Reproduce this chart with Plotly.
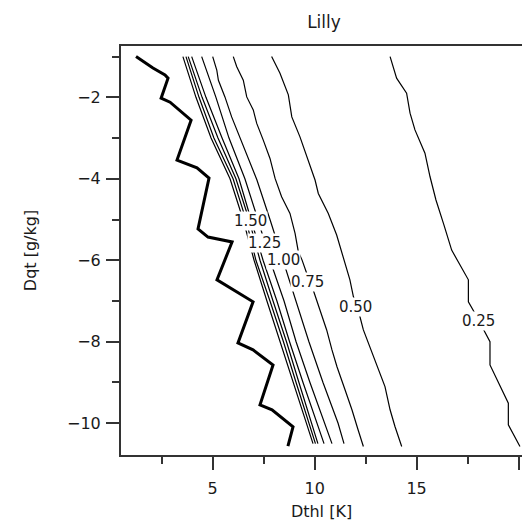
import plotly.graph_objects as go

# ---- data -------------------------------------------------------------
# Labelled contour levels and the spot each label is written at
levels = ["0.25", "0.50", "0.75", "1.00", "1.25", "1.50"]
label_x = [18.05, 12.0, 9.65, 8.45, 7.53, 6.85]
label_y = [-7.5, -7.15, -6.53, -6.0, -5.58, -5.04]

# Dqt rows shared by the tightly packed upper contours
rows_y = [-1.0, -2.0, -3.0, -4.0, -5.0, -6.0, -7.0, -8.0, -9.0, -10.0, -10.5]
c225_x = [3.54, 4.18, 4.92, 5.85, 6.49, 7.03, 7.66, 8.30, 8.94, 9.58, 9.92]
c200_x = [3.69, 4.33, 5.06, 6.00, 6.63, 7.12, 7.81, 8.47, 9.09, 9.72, 10.04]
c175_x = [3.80, 4.48, 5.26, 6.14, 6.78, 7.32, 7.96, 8.62, 9.23, 9.87, 10.16]
c150_x = [3.97, 4.67, 5.46, 6.29, 6.88, 7.47, 8.15, 8.77, 9.43, 10.12, 10.46]
c125_x = [4.46, 5.16, 5.80, 6.58, 7.22, 7.81, 8.50, 9.09, 9.77, 10.51, 10.85]

c100_x = [5.00, 5.20, 5.28, 5.60, 5.93, 6.18, 6.50, 6.83, 7.17, 7.81, 8.45,
          9.09, 9.72, 10.41, 11.15, 11.44]
c100_y = [-1.00, -1.33, -1.58, -1.99, -2.48, -2.80, -3.21, -3.62, -4.03, -5.0,
          -6.0, -7.0, -8.0, -9.0, -10.0, -10.5]

c075_x = [6.01, 6.18, 6.50, 6.67, 6.99, 7.16, 7.48, 7.81, 8.06, 8.38, 8.79,
          9.04, 9.20, 9.38, 9.61, 9.93, 10.26, 10.59, 10.85, 11.10, 11.49,
          11.83, 12.13, 12.39]
c075_y = [-1.00, -1.25, -1.58, -1.99, -2.31, -2.64, -3.05, -3.50, -3.99, -4.44,
          -4.85, -5.34, -5.79, -5.99, -6.32, -6.73, -7.22, -7.71, -8.20, -8.62,
          -9.18, -9.67, -10.16, -10.57]

c050_x = [7.89, 8.30, 8.71, 8.88, 9.28, 9.67, 10.02, 10.18, 10.67, 11.08, 11.41,
          11.73, 11.90, 12.22, 12.39, 12.81, 13.21, 13.45, 13.70, 13.94, 14.27]
c050_y = [-1.00, -1.41, -1.94, -2.48, -2.97, -3.54, -4.03, -4.36, -4.85, -5.38,
          -5.91, -6.48, -6.89, -7.38, -7.71, -8.25, -8.81, -9.10, -9.67, -10.08,
          -10.57]

c025_x = [13.70, 14.02, 14.51, 14.68, 14.92, 15.41, 15.66, 15.95, 16.34, 16.72,
          17.54, 17.54, 17.86, 18.27, 18.60, 18.60, 19.50, 19.50, 20.07]
c025_y = [-1.00, -1.53, -1.90, -2.39, -2.80, -3.37, -3.95, -4.52, -5.13, -5.75,
          -6.48, -7.02, -7.30, -7.71, -8.00, -8.57, -9.51, -10.04, -10.57]

# Highest level, drawn heavy
bold_x = [1.24, 2.07, 2.66, 2.81, 2.47, 2.91, 3.94, 3.25, 4.23, 4.82, 4.28, 4.77,
          5.95, 5.21, 6.98, 6.49, 6.24, 6.98, 7.96, 7.32, 7.91, 8.94, 8.69]
bold_y = [-1.0, -1.28, -1.45, -1.53, -2.02, -2.12, -2.56, -3.54, -3.73, -3.98,
          -5.23, -5.43, -5.55, -6.48, -7.02, -7.71, -8.03, -8.20, -8.57, -9.55,
          -9.67, -10.09, -10.56]

x_ticks = [5, 10, 15, 20]
y_ticks = [-2, -4, -6, -8, -10]
y_tick_text = ["\u22122", "\u22124", "\u22126", "\u22128", "\u221210"]

# ---- figure -----------------------------------------------------------
FONT = "DejaVu Sans"
INK = "#1a1a1a"

fig = go.Figure()

thin = dict(color="black", width=1.2)
for xs in (c225_x, c200_x, c175_x, c150_x, c125_x):
    fig.add_trace(go.Scatter(x=xs, y=rows_y, mode="lines", line=thin,
                             hoverinfo="skip"))
for xs, ys in ((c100_x, c100_y), (c075_x, c075_y), (c050_x, c050_y),
               (c025_x, c025_y)):
    fig.add_trace(go.Scatter(x=xs, y=ys, mode="lines", line=thin,
                             hoverinfo="skip"))
fig.add_trace(go.Scatter(x=bold_x, y=bold_y, mode="lines",
                         line=dict(color="black", width=3), hoverinfo="skip"))

for txt, lx, ly in zip(levels, label_x, label_y):
    fig.add_annotation(x=lx, y=ly, text=txt, showarrow=False,
                       font=dict(family=FONT, size=15, color=INK),
                       bgcolor="white", borderpad=0)

axis_common = dict(
    showgrid=False, zeroline=False, showline=True, linecolor="#333",
    linewidth=2, ticks="outside", ticklen=13, tickwidth=2, tickcolor="#333",
    tickfont=dict(family=FONT, size=16, color=INK),
)

fig.update_layout(
    width=522, height=521,
    margin=dict(l=121, r=0, t=46, b=66, pad=0),
    plot_bgcolor="white", paper_bgcolor="white",
    showlegend=False,
    title=dict(text="Lilly", x=324 / 522, xref="container", xanchor="center",
               y=1 - 22 / 521, yref="container", yanchor="middle",
               font=dict(family=FONT, size=17, color=INK)),
    xaxis=dict(range=[0.503, 20.17], tickvals=x_ticks, mirror=True,
               ticklabelstandoff=5,
               minor=dict(dtick=2.5, tick0=0, ticklen=7, tickwidth=2,
                          tickcolor="#333", ticks="outside"),
               title=dict(text="Dthl [K]", standoff=10,
                          font=dict(family=FONT, size=16, color=INK)),
               **axis_common),
    yaxis=dict(range=[-10.78, -0.74], tickvals=y_ticks, ticktext=y_tick_text,
               ticklabelstandoff=2,
               minor=dict(dtick=1, tick0=0, ticklen=7, tickwidth=2,
                          tickcolor="#333", ticks="outside"),
               title=dict(text="Dqt [g/kg]", standoff=26,
                          font=dict(family=FONT, size=16, color=INK)),
               **axis_common),
)

fig.write_html("out.html")
